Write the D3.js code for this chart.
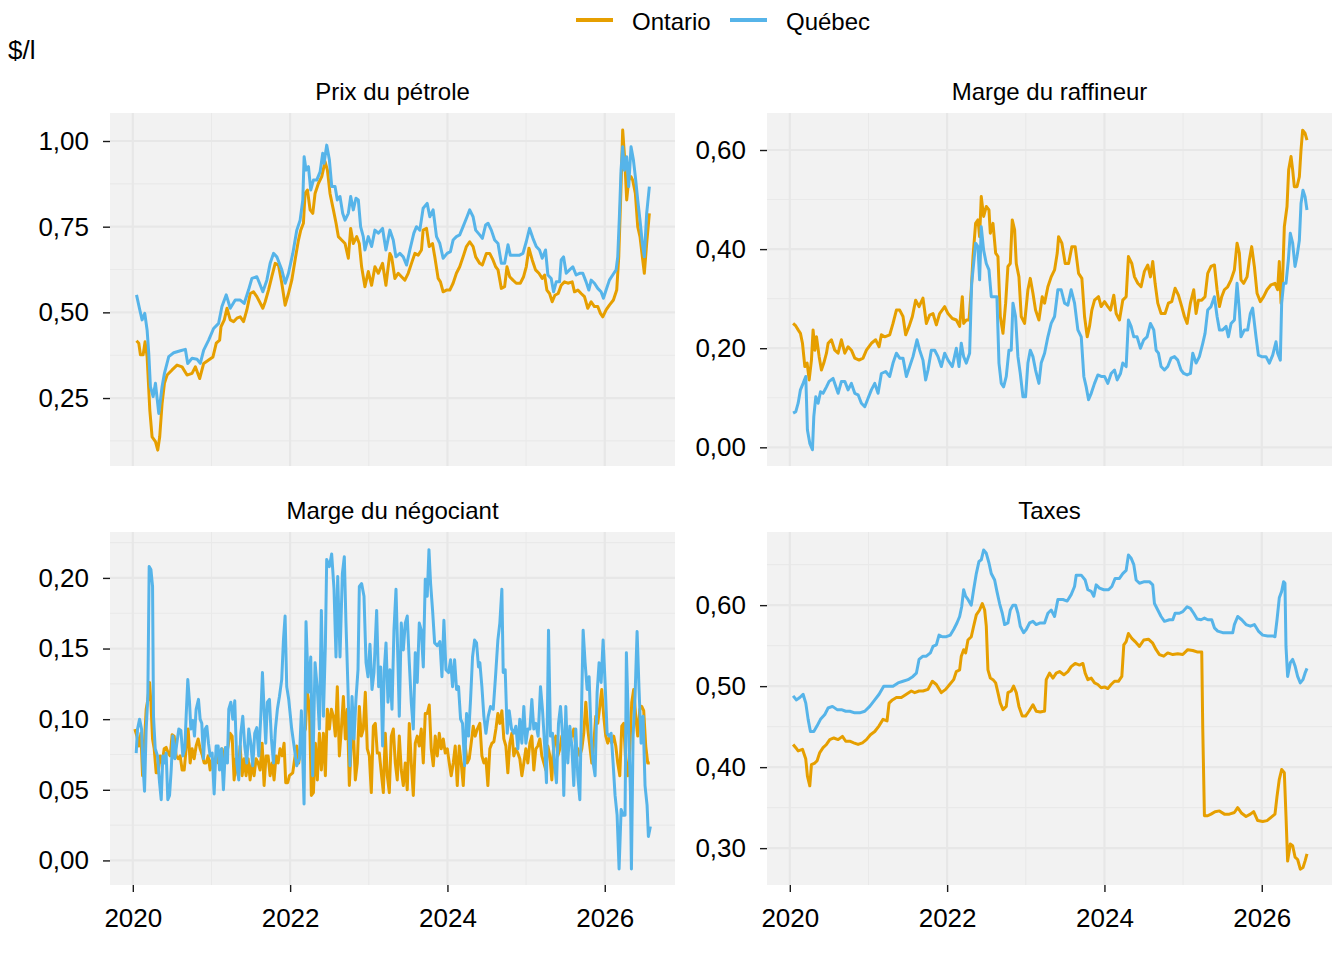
<!DOCTYPE html>
<html>
<head>
<meta charset="utf-8">
<script src="https://cdn.jsdelivr.net/npm/d3@7"></script>
<style>
    body { margin: 0; background: #ffffff; }
    svg { display: block; font-family: "Liberation Sans", Arial, sans-serif; }
</style>
</head>
<body>
<div id="chart"></div>
<script>
// Series names and panel titles
const seriesNames = ["Ontario", "Québec"];
const seriesColors = ["#E69F00", "#56B4E9"];
const panelTitles = ["Prix du pétrole", "Marge du raffineur", "Marge du négociant", "Taxes"];
const unitLabel = "$/l";

// Tick values
const xTicks = [2020, 2022, 2024, 2026];
const yTicksPetrole = [0.25, 0.50, 0.75, 1.00];
const yTicksRaffineur = [0.00, 0.20, 0.40, 0.60];
const yTicksNegociant = [0.00, 0.05, 0.10, 0.15, 0.20];
const yTicksTaxes = [0.30, 0.40, 0.50, 0.60];

// Data: [decimal year, $/l]
const ontarioPetrole = [[2020.047,0.417],[2020.076,0.410],[2020.097,0.376],[2020.131,0.376],[2020.156,0.414],[2020.182,0.370],[2020.216,0.215],[2020.245,0.137],[2020.288,0.123],[2020.317,0.098],[2020.342,0.137],[2020.372,0.234],[2020.402,0.293],[2020.436,0.317],[2020.499,0.332],[2020.562,0.346],[2020.626,0.341],[2020.689,0.317],[2020.753,0.322],[2020.795,0.341],[2020.850,0.307],[2020.901,0.351],[2020.964,0.361],[2021.019,0.370],[2021.061,0.410],[2021.104,0.419],[2021.121,0.458],[2021.163,0.478],[2021.197,0.512],[2021.239,0.478],[2021.281,0.473],[2021.323,0.483],[2021.366,0.487],[2021.408,0.473],[2021.450,0.507],[2021.493,0.555],[2021.535,0.560],[2021.577,0.546],[2021.611,0.531],[2021.653,0.512],[2021.683,0.531],[2021.725,0.565],[2021.767,0.604],[2021.810,0.643],[2021.852,0.638],[2021.894,0.585],[2021.937,0.521],[2021.979,0.555],[2022.021,0.594],[2022.063,0.653],[2022.106,0.711],[2022.135,0.740],[2022.169,0.760],[2022.190,0.847],[2022.220,0.857],[2022.254,0.799],[2022.288,0.789],[2022.317,0.847],[2022.359,0.876],[2022.402,0.896],[2022.444,0.940],[2022.474,0.915],[2022.507,0.847],[2022.550,0.799],[2022.584,0.760],[2022.613,0.721],[2022.655,0.711],[2022.698,0.701],[2022.740,0.658],[2022.770,0.745],[2022.803,0.701],[2022.846,0.721],[2022.879,0.701],[2022.909,0.633],[2022.951,0.575],[2022.994,0.619],[2023.036,0.579],[2023.078,0.633],[2023.121,0.614],[2023.175,0.643],[2023.218,0.579],[2023.268,0.672],[2023.290,0.662],[2023.332,0.599],[2023.374,0.614],[2023.416,0.604],[2023.459,0.594],[2023.501,0.614],[2023.543,0.643],[2023.586,0.672],[2023.628,0.667],[2023.670,0.682],[2023.691,0.740],[2023.734,0.745],[2023.768,0.692],[2023.810,0.701],[2023.839,0.662],[2023.882,0.599],[2023.911,0.589],[2023.945,0.560],[2023.987,0.565],[2024.030,0.565],[2024.072,0.585],[2024.114,0.614],[2024.156,0.633],[2024.199,0.662],[2024.241,0.692],[2024.283,0.706],[2024.326,0.692],[2024.359,0.662],[2024.410,0.643],[2024.444,0.638],[2024.495,0.672],[2024.537,0.672],[2024.579,0.653],[2024.613,0.633],[2024.643,0.624],[2024.685,0.570],[2024.727,0.575],[2024.757,0.633],[2024.791,0.604],[2024.833,0.594],[2024.875,0.585],[2024.926,0.585],[2024.968,0.604],[2025.002,0.633],[2025.036,0.687],[2025.078,0.653],[2025.120,0.624],[2025.163,0.614],[2025.205,0.599],[2025.235,0.609],[2025.264,0.565],[2025.298,0.555],[2025.332,0.531],[2025.366,0.550],[2025.408,0.555],[2025.446,0.579],[2025.488,0.589],[2025.531,0.585],[2025.586,0.589],[2025.615,0.560],[2025.658,0.565],[2025.700,0.555],[2025.742,0.546],[2025.784,0.512],[2025.827,0.531],[2025.869,0.517],[2025.911,0.517],[2025.945,0.497],[2025.975,0.487],[2026.017,0.507],[2026.059,0.521],[2026.110,0.536],[2026.152,0.565],[2026.178,0.662],[2026.207,0.867],[2026.228,1.032],[2026.254,0.945],[2026.279,0.828],[2026.304,0.886],[2026.334,0.896],[2026.355,0.886],[2026.389,0.847],[2026.419,0.750],[2026.448,0.721],[2026.478,0.662],[2026.503,0.614],[2026.533,0.701],[2026.567,0.789]];

const quebecPetrole = [[2020.047,0.551],[2020.089,0.507],[2020.118,0.478],[2020.152,0.497],[2020.182,0.448],[2020.203,0.380],[2020.224,0.283],[2020.258,0.254],[2020.288,0.293],[2020.330,0.205],[2020.372,0.283],[2020.402,0.322],[2020.457,0.371],[2020.520,0.382],[2020.605,0.388],[2020.668,0.392],[2020.698,0.351],[2020.753,0.366],[2020.816,0.363],[2020.858,0.351],[2020.901,0.390],[2020.964,0.419],[2021.027,0.453],[2021.091,0.468],[2021.133,0.517],[2021.188,0.551],[2021.239,0.512],[2021.302,0.536],[2021.366,0.536],[2021.416,0.526],[2021.471,0.565],[2021.514,0.599],[2021.577,0.604],[2021.611,0.585],[2021.653,0.560],[2021.704,0.594],[2021.746,0.643],[2021.789,0.672],[2021.831,0.662],[2021.894,0.624],[2021.937,0.585],[2021.979,0.614],[2022.034,0.672],[2022.085,0.740],[2022.127,0.769],[2022.161,0.828],[2022.178,0.954],[2022.203,0.915],[2022.233,0.925],[2022.262,0.857],[2022.296,0.886],[2022.338,0.886],[2022.381,0.910],[2022.414,0.964],[2022.431,0.935],[2022.465,0.988],[2022.499,0.945],[2022.529,0.867],[2022.571,0.867],[2022.600,0.828],[2022.634,0.838],[2022.668,0.789],[2022.698,0.769],[2022.740,0.789],[2022.770,0.838],[2022.803,0.799],[2022.837,0.833],[2022.867,0.828],[2022.896,0.750],[2022.930,0.721],[2022.951,0.682],[2022.994,0.721],[2023.036,0.692],[2023.078,0.740],[2023.121,0.731],[2023.175,0.745],[2023.218,0.682],[2023.268,0.740],[2023.311,0.711],[2023.345,0.662],[2023.395,0.672],[2023.438,0.662],[2023.480,0.638],[2023.522,0.682],[2023.573,0.731],[2023.607,0.750],[2023.649,0.740],[2023.691,0.804],[2023.742,0.818],[2023.776,0.779],[2023.818,0.799],[2023.861,0.721],[2023.903,0.701],[2023.945,0.658],[2023.996,0.672],[2024.038,0.677],[2024.072,0.711],[2024.114,0.721],[2024.156,0.726],[2024.199,0.750],[2024.249,0.779],[2024.283,0.799],[2024.326,0.779],[2024.359,0.740],[2024.410,0.726],[2024.444,0.716],[2024.486,0.755],[2024.516,0.760],[2024.558,0.740],[2024.600,0.711],[2024.643,0.701],[2024.685,0.643],[2024.727,0.643],[2024.770,0.697],[2024.799,0.667],[2024.854,0.667],[2024.918,0.667],[2024.960,0.672],[2025.002,0.706],[2025.044,0.745],[2025.087,0.716],[2025.129,0.692],[2025.171,0.682],[2025.205,0.658],[2025.247,0.682],[2025.277,0.609],[2025.319,0.599],[2025.349,0.560],[2025.383,0.589],[2025.425,0.589],[2025.446,0.653],[2025.476,0.662],[2025.510,0.614],[2025.552,0.624],[2025.594,0.633],[2025.636,0.609],[2025.679,0.614],[2025.721,0.614],[2025.763,0.589],[2025.797,0.565],[2025.827,0.594],[2025.869,0.585],[2025.911,0.570],[2025.953,0.560],[2025.983,0.541],[2026.017,0.565],[2026.059,0.594],[2026.101,0.609],[2026.144,0.624],[2026.165,0.662],[2026.186,0.779],[2026.207,0.915],[2026.228,0.983],[2026.249,0.915],[2026.279,0.954],[2026.304,0.867],[2026.334,0.983],[2026.364,0.945],[2026.389,0.896],[2026.419,0.828],[2026.448,0.769],[2026.478,0.701],[2026.503,0.662],[2026.533,0.789],[2026.567,0.867]];

const ontarioRaffineur = [[2020.042,0.250],[2020.076,0.245],[2020.106,0.237],[2020.135,0.230],[2020.161,0.210],[2020.191,0.163],[2020.220,0.170],[2020.246,0.136],[2020.275,0.176],[2020.296,0.237],[2020.318,0.196],[2020.339,0.223],[2020.373,0.183],[2020.402,0.156],[2020.432,0.170],[2020.466,0.190],[2020.487,0.210],[2020.529,0.217],[2020.572,0.196],[2020.614,0.190],[2020.656,0.217],[2020.699,0.190],[2020.741,0.203],[2020.783,0.196],[2020.826,0.180],[2020.881,0.176],[2020.931,0.180],[2020.974,0.196],[2021.037,0.210],[2021.092,0.217],[2021.135,0.203],[2021.164,0.227],[2021.207,0.223],[2021.270,0.227],[2021.312,0.250],[2021.355,0.277],[2021.397,0.277],[2021.439,0.264],[2021.473,0.227],[2021.516,0.244],[2021.558,0.264],[2021.600,0.297],[2021.643,0.284],[2021.693,0.301],[2021.736,0.250],[2021.778,0.267],[2021.820,0.270],[2021.863,0.247],[2021.905,0.270],[2021.969,0.284],[2022.011,0.270],[2022.066,0.260],[2022.117,0.257],[2022.159,0.244],[2022.193,0.304],[2022.210,0.250],[2022.244,0.257],[2022.278,0.257],[2022.307,0.318],[2022.329,0.385],[2022.362,0.452],[2022.392,0.459],[2022.413,0.425],[2022.434,0.506],[2022.464,0.466],[2022.498,0.486],[2022.532,0.479],[2022.549,0.432],[2022.583,0.452],[2022.617,0.392],[2022.646,0.385],[2022.676,0.264],[2022.710,0.230],[2022.744,0.291],[2022.773,0.365],[2022.803,0.371],[2022.828,0.459],[2022.858,0.439],[2022.879,0.371],[2022.913,0.344],[2022.942,0.264],[2022.985,0.250],[2023.027,0.318],[2023.057,0.341],[2023.091,0.311],[2023.124,0.277],[2023.167,0.257],[2023.209,0.304],[2023.239,0.291],[2023.281,0.324],[2023.323,0.344],[2023.366,0.358],[2023.400,0.392],[2023.417,0.425],[2023.459,0.412],[2023.501,0.371],[2023.544,0.371],[2023.586,0.405],[2023.628,0.405],[2023.671,0.351],[2023.713,0.341],[2023.747,0.264],[2023.781,0.223],[2023.810,0.244],[2023.840,0.277],[2023.874,0.297],[2023.925,0.304],[2023.958,0.284],[2024.001,0.294],[2024.043,0.284],[2024.077,0.277],[2024.119,0.307],[2024.149,0.270],[2024.191,0.257],[2024.233,0.297],[2024.276,0.304],[2024.305,0.385],[2024.348,0.371],[2024.382,0.344],[2024.424,0.331],[2024.466,0.324],[2024.508,0.355],[2024.551,0.368],[2024.585,0.344],[2024.614,0.375],[2024.644,0.331],[2024.678,0.291],[2024.720,0.270],[2024.771,0.270],[2024.813,0.291],[2024.856,0.294],[2024.898,0.321],[2024.941,0.307],[2024.983,0.284],[2025.017,0.264],[2025.051,0.250],[2025.093,0.291],[2025.135,0.318],[2025.165,0.270],[2025.195,0.297],[2025.237,0.297],[2025.279,0.304],[2025.313,0.351],[2025.355,0.365],[2025.398,0.368],[2025.432,0.318],[2025.462,0.284],[2025.491,0.304],[2025.525,0.318],[2025.567,0.324],[2025.610,0.338],[2025.652,0.358],[2025.686,0.412],[2025.715,0.392],[2025.736,0.338],[2025.770,0.331],[2025.813,0.344],[2025.842,0.378],[2025.872,0.405],[2025.906,0.365],[2025.940,0.311],[2025.982,0.294],[2026.024,0.304],[2026.067,0.318],[2026.118,0.328],[2026.168,0.331],[2026.202,0.318],[2026.223,0.375],[2026.245,0.291],[2026.266,0.344],[2026.287,0.445],[2026.321,0.486],[2026.342,0.560],[2026.372,0.587],[2026.393,0.560],[2026.414,0.526],[2026.448,0.526],[2026.478,0.546],[2026.499,0.600],[2026.520,0.640],[2026.550,0.634],[2026.575,0.620]];

const quebecRaffineur = [[2020.042,0.069],[2020.076,0.072],[2020.106,0.089],[2020.135,0.116],[2020.169,0.129],[2020.203,0.143],[2020.224,0.035],[2020.254,0.008],[2020.288,-0.005],[2020.305,0.062],[2020.330,0.102],[2020.360,0.089],[2020.390,0.112],[2020.423,0.109],[2020.466,0.122],[2020.500,0.133],[2020.550,0.139],[2020.614,0.109],[2020.656,0.133],[2020.699,0.133],[2020.741,0.116],[2020.783,0.129],[2020.826,0.109],[2020.868,0.106],[2020.910,0.089],[2020.953,0.082],[2020.995,0.099],[2021.037,0.116],[2021.080,0.129],[2021.122,0.109],[2021.164,0.149],[2021.219,0.153],[2021.270,0.143],[2021.312,0.170],[2021.355,0.190],[2021.397,0.180],[2021.439,0.180],[2021.482,0.143],[2021.524,0.163],[2021.566,0.183],[2021.617,0.217],[2021.651,0.196],[2021.693,0.176],[2021.727,0.136],[2021.757,0.156],[2021.799,0.196],[2021.842,0.196],[2021.884,0.183],[2021.926,0.163],[2021.969,0.190],[2022.011,0.176],[2022.066,0.163],[2022.117,0.200],[2022.151,0.163],[2022.180,0.210],[2022.210,0.183],[2022.244,0.170],[2022.286,0.190],[2022.312,0.331],[2022.337,0.371],[2022.362,0.412],[2022.392,0.405],[2022.413,0.338],[2022.434,0.445],[2022.464,0.398],[2022.498,0.371],[2022.532,0.358],[2022.561,0.304],[2022.604,0.304],[2022.633,0.304],[2022.659,0.170],[2022.688,0.129],[2022.718,0.122],[2022.752,0.143],[2022.786,0.196],[2022.815,0.196],[2022.837,0.291],[2022.870,0.264],[2022.900,0.183],[2022.930,0.149],[2022.964,0.102],[2022.997,0.102],[2023.027,0.170],[2023.057,0.196],[2023.091,0.183],[2023.124,0.156],[2023.167,0.129],[2023.196,0.170],[2023.239,0.190],[2023.281,0.223],[2023.323,0.250],[2023.366,0.264],[2023.408,0.318],[2023.450,0.318],[2023.493,0.291],[2023.535,0.287],[2023.577,0.318],[2023.620,0.291],[2023.662,0.237],[2023.705,0.223],[2023.738,0.143],[2023.768,0.122],[2023.798,0.096],[2023.832,0.109],[2023.874,0.129],[2023.916,0.146],[2023.958,0.143],[2024.001,0.143],[2024.043,0.129],[2024.085,0.149],[2024.128,0.156],[2024.162,0.136],[2024.204,0.149],[2024.233,0.170],[2024.276,0.163],[2024.305,0.257],[2024.339,0.244],[2024.373,0.223],[2024.415,0.223],[2024.458,0.200],[2024.500,0.217],[2024.542,0.223],[2024.585,0.250],[2024.627,0.237],[2024.657,0.196],[2024.687,0.190],[2024.720,0.163],[2024.763,0.156],[2024.805,0.163],[2024.847,0.180],[2024.890,0.183],[2024.932,0.176],[2024.974,0.156],[2025.008,0.149],[2025.051,0.146],[2025.093,0.149],[2025.123,0.190],[2025.165,0.170],[2025.207,0.183],[2025.250,0.210],[2025.279,0.230],[2025.313,0.277],[2025.355,0.284],[2025.398,0.304],[2025.432,0.264],[2025.462,0.237],[2025.504,0.237],[2025.546,0.244],[2025.576,0.223],[2025.610,0.250],[2025.652,0.257],[2025.686,0.331],[2025.715,0.277],[2025.736,0.223],[2025.779,0.237],[2025.821,0.237],[2025.855,0.270],[2025.884,0.281],[2025.927,0.223],[2025.957,0.186],[2025.999,0.183],[2026.054,0.183],[2026.096,0.170],[2026.139,0.186],[2026.181,0.213],[2026.202,0.190],[2026.236,0.176],[2026.253,0.291],[2026.278,0.331],[2026.308,0.331],[2026.338,0.378],[2026.363,0.432],[2026.393,0.412],[2026.423,0.365],[2026.448,0.385],[2026.478,0.418],[2026.499,0.492],[2026.524,0.519],[2026.550,0.506],[2026.575,0.479]];

const ontarioNegociant = [[2020.026,0.093],[2020.052,0.088],[2020.077,0.081],[2020.103,0.090],[2020.124,0.060],[2020.145,0.081],[2020.170,0.107],[2020.191,0.114],[2020.213,0.126],[2020.230,0.112],[2020.251,0.086],[2020.272,0.079],[2020.297,0.062],[2020.323,0.062],[2020.348,0.074],[2020.373,0.069],[2020.399,0.079],[2020.424,0.080],[2020.450,0.076],[2020.475,0.074],[2020.500,0.089],[2020.526,0.088],[2020.551,0.074],[2020.577,0.072],[2020.602,0.074],[2020.627,0.064],[2020.653,0.064],[2020.678,0.079],[2020.704,0.093],[2020.729,0.069],[2020.754,0.079],[2020.780,0.072],[2020.805,0.081],[2020.831,0.086],[2020.856,0.079],[2020.881,0.075],[2020.907,0.069],[2020.932,0.069],[2020.958,0.074],[2020.983,0.064],[2021.009,0.072],[2021.034,0.067],[2021.059,0.074],[2021.085,0.069],[2021.110,0.074],[2021.136,0.079],[2021.161,0.069],[2021.186,0.074],[2021.212,0.081],[2021.237,0.090],[2021.263,0.088],[2021.288,0.057],[2021.313,0.072],[2021.339,0.060],[2021.364,0.081],[2021.390,0.060],[2021.415,0.072],[2021.440,0.060],[2021.466,0.072],[2021.491,0.057],[2021.517,0.069],[2021.542,0.060],[2021.567,0.072],[2021.593,0.069],[2021.618,0.064],[2021.644,0.083],[2021.669,0.053],[2021.694,0.074],[2021.720,0.074],[2021.745,0.060],[2021.771,0.069],[2021.796,0.057],[2021.821,0.074],[2021.847,0.069],[2021.872,0.079],[2021.898,0.074],[2021.923,0.083],[2021.944,0.055],[2021.969,0.055],[2021.991,0.060],[2022.033,0.062],[2022.058,0.072],[2022.084,0.081],[2022.109,0.069],[2022.135,0.081],[2022.160,0.088],[2022.194,0.093],[2022.219,0.119],[2022.245,0.109],[2022.270,0.046],[2022.296,0.048],[2022.321,0.083],[2022.346,0.057],[2022.372,0.090],[2022.397,0.064],[2022.423,0.090],[2022.448,0.060],[2022.473,0.107],[2022.499,0.093],[2022.524,0.107],[2022.550,0.102],[2022.575,0.088],[2022.600,0.123],[2022.626,0.074],[2022.651,0.093],[2022.677,0.116],[2022.702,0.086],[2022.727,0.107],[2022.753,0.053],[2022.778,0.083],[2022.804,0.093],[2022.829,0.057],[2022.854,0.069],[2022.880,0.109],[2022.905,0.088],[2022.931,0.093],[2022.956,0.119],[2022.981,0.079],[2023.007,0.074],[2023.032,0.048],[2023.058,0.095],[2023.083,0.097],[2023.108,0.076],[2023.134,0.076],[2023.159,0.062],[2023.185,0.048],[2023.210,0.090],[2023.235,0.060],[2023.261,0.048],[2023.286,0.088],[2023.312,0.093],[2023.337,0.069],[2023.362,0.057],[2023.388,0.088],[2023.413,0.064],[2023.439,0.053],[2023.464,0.069],[2023.489,0.050],[2023.515,0.097],[2023.540,0.069],[2023.566,0.046],[2023.591,0.083],[2023.616,0.088],[2023.642,0.081],[2023.667,0.093],[2023.693,0.069],[2023.718,0.104],[2023.743,0.104],[2023.769,0.110],[2023.794,0.079],[2023.820,0.067],[2023.845,0.088],[2023.871,0.074],[2023.896,0.090],[2023.921,0.079],[2023.947,0.086],[2023.972,0.076],[2023.998,0.079],[2024.023,0.069],[2024.048,0.060],[2024.074,0.069],[2024.099,0.081],[2024.125,0.053],[2024.150,0.081],[2024.175,0.069],[2024.201,0.053],[2024.226,0.081],[2024.252,0.069],[2024.277,0.072],[2024.302,0.083],[2024.328,0.095],[2024.353,0.088],[2024.379,0.093],[2024.412,0.097],[2024.438,0.074],[2024.463,0.069],[2024.489,0.072],[2024.514,0.053],[2024.539,0.079],[2024.565,0.083],[2024.590,0.084],[2024.616,0.093],[2024.641,0.104],[2024.666,0.097],[2024.692,0.106],[2024.717,0.086],[2024.743,0.081],[2024.768,0.062],[2024.793,0.083],[2024.819,0.090],[2024.844,0.074],[2024.870,0.079],[2024.895,0.076],[2024.920,0.072],[2024.946,0.060],[2024.971,0.069],[2024.997,0.079],[2025.022,0.069],[2025.048,0.083],[2025.073,0.088],[2025.098,0.064],[2025.124,0.079],[2025.149,0.081],[2025.175,0.086],[2025.200,0.074],[2025.225,0.069],[2025.251,0.064],[2025.276,0.081],[2025.302,0.074],[2025.327,0.057],[2025.352,0.083],[2025.378,0.088],[2025.403,0.074],[2025.429,0.079],[2025.454,0.088],[2025.479,0.079],[2025.505,0.088],[2025.530,0.081],[2025.556,0.086],[2025.581,0.088],[2025.606,0.093],[2025.632,0.081],[2025.657,0.079],[2025.683,0.074],[2025.708,0.079],[2025.733,0.090],[2025.759,0.112],[2025.784,0.093],[2025.810,0.081],[2025.835,0.069],[2025.860,0.083],[2025.886,0.102],[2025.911,0.097],[2025.937,0.109],[2025.962,0.121],[2025.987,0.102],[2026.013,0.088],[2026.038,0.083],[2026.064,0.088],[2026.089,0.083],[2026.114,0.088],[2026.140,0.081],[2026.165,0.069],[2026.191,0.060],[2026.216,0.095],[2026.241,0.097],[2026.267,0.069],[2026.292,0.060],[2026.318,0.079],[2026.343,0.112],[2026.368,0.121],[2026.394,0.102],[2026.419,0.088],[2026.445,0.107],[2026.470,0.109],[2026.495,0.106],[2026.521,0.081],[2026.546,0.069],[2026.572,0.069]];

const quebecNegociant = [[2020.043,0.076],[2020.060,0.093],[2020.086,0.100],[2020.111,0.093],[2020.128,0.069],[2020.149,0.049],[2020.170,0.093],[2020.191,0.116],[2020.208,0.208],[2020.230,0.206],[2020.251,0.194],[2020.263,0.102],[2020.285,0.079],[2020.314,0.074],[2020.340,0.055],[2020.361,0.043],[2020.382,0.074],[2020.403,0.069],[2020.424,0.076],[2020.445,0.043],[2020.467,0.046],[2020.488,0.064],[2020.509,0.088],[2020.534,0.072],[2020.560,0.083],[2020.585,0.093],[2020.611,0.092],[2020.636,0.074],[2020.661,0.079],[2020.678,0.102],[2020.699,0.128],[2020.721,0.112],[2020.738,0.093],[2020.763,0.099],[2020.784,0.088],[2020.805,0.107],[2020.835,0.114],[2020.856,0.100],[2020.877,0.097],[2020.898,0.072],[2020.920,0.093],[2020.941,0.095],[2020.962,0.083],[2020.983,0.074],[2021.009,0.076],[2021.034,0.047],[2021.059,0.081],[2021.085,0.081],[2021.102,0.064],[2021.127,0.079],[2021.152,0.050],[2021.178,0.080],[2021.203,0.069],[2021.220,0.107],[2021.246,0.112],[2021.271,0.100],[2021.296,0.113],[2021.322,0.069],[2021.347,0.057],[2021.373,0.090],[2021.398,0.102],[2021.423,0.081],[2021.449,0.069],[2021.474,0.093],[2021.500,0.083],[2021.525,0.067],[2021.550,0.090],[2021.576,0.094],[2021.601,0.074],[2021.627,0.102],[2021.648,0.133],[2021.669,0.107],[2021.690,0.083],[2021.711,0.112],[2021.737,0.114],[2021.762,0.086],[2021.788,0.069],[2021.813,0.093],[2021.838,0.107],[2021.864,0.116],[2021.893,0.128],[2021.915,0.156],[2021.936,0.173],[2021.957,0.123],[2021.982,0.114],[2022.020,0.093],[2022.050,0.081],[2022.084,0.067],[2022.118,0.072],[2022.143,0.106],[2022.177,0.040],[2022.202,0.169],[2022.232,0.119],[2022.262,0.144],[2022.287,0.060],[2022.317,0.140],[2022.346,0.121],[2022.372,0.093],[2022.397,0.177],[2022.423,0.102],[2022.448,0.152],[2022.465,0.213],[2022.499,0.208],[2022.528,0.217],[2022.558,0.192],[2022.583,0.144],[2022.605,0.201],[2022.634,0.144],[2022.664,0.203],[2022.689,0.215],[2022.710,0.168],[2022.736,0.121],[2022.761,0.067],[2022.787,0.116],[2022.812,0.086],[2022.837,0.114],[2022.863,0.135],[2022.880,0.194],[2022.909,0.196],[2022.939,0.187],[2022.965,0.140],[2022.990,0.130],[2023.015,0.153],[2023.041,0.121],[2023.066,0.133],[2023.100,0.177],[2023.125,0.123],[2023.151,0.137],[2023.176,0.081],[2023.197,0.135],[2023.219,0.154],[2023.244,0.112],[2023.269,0.135],[2023.295,0.107],[2023.320,0.163],[2023.346,0.192],[2023.371,0.140],[2023.388,0.102],[2023.413,0.168],[2023.439,0.149],[2023.464,0.168],[2023.489,0.173],[2023.515,0.140],[2023.540,0.112],[2023.566,0.093],[2023.591,0.147],[2023.616,0.126],[2023.642,0.168],[2023.667,0.163],[2023.693,0.137],[2023.718,0.199],[2023.743,0.187],[2023.765,0.220],[2023.786,0.196],[2023.811,0.177],[2023.837,0.154],[2023.871,0.152],[2023.904,0.155],[2023.930,0.130],[2023.955,0.170],[2023.981,0.135],[2024.014,0.133],[2024.040,0.142],[2024.065,0.123],[2024.091,0.142],[2024.116,0.121],[2024.141,0.123],[2024.167,0.100],[2024.192,0.097],[2024.218,0.067],[2024.243,0.104],[2024.268,0.088],[2024.294,0.114],[2024.319,0.144],[2024.345,0.156],[2024.370,0.154],[2024.395,0.137],[2024.412,0.140],[2024.438,0.123],[2024.463,0.102],[2024.489,0.090],[2024.518,0.102],[2024.548,0.109],[2024.582,0.107],[2024.611,0.130],[2024.641,0.156],[2024.666,0.168],[2024.692,0.192],[2024.709,0.133],[2024.734,0.135],[2024.760,0.090],[2024.785,0.106],[2024.815,0.093],[2024.844,0.090],[2024.870,0.095],[2024.895,0.079],[2024.920,0.100],[2024.946,0.083],[2024.971,0.109],[2024.997,0.083],[2025.022,0.093],[2025.048,0.093],[2025.073,0.114],[2025.098,0.093],[2025.124,0.097],[2025.153,0.088],[2025.183,0.123],[2025.208,0.107],[2025.234,0.083],[2025.259,0.055],[2025.285,0.163],[2025.310,0.088],[2025.335,0.090],[2025.361,0.069],[2025.386,0.055],[2025.412,0.097],[2025.437,0.109],[2025.462,0.090],[2025.479,0.046],[2025.505,0.109],[2025.530,0.069],[2025.556,0.095],[2025.581,0.081],[2025.606,0.053],[2025.632,0.093],[2025.657,0.060],[2025.683,0.043],[2025.708,0.116],[2025.725,0.163],[2025.750,0.140],[2025.776,0.121],[2025.801,0.130],[2025.827,0.088],[2025.852,0.069],[2025.877,0.060],[2025.903,0.119],[2025.928,0.140],[2025.954,0.126],[2025.979,0.156],[2026.004,0.126],[2026.030,0.090],[2026.055,0.088],[2026.081,0.090],[2026.106,0.069],[2026.131,0.046],[2026.157,0.032],[2026.182,-0.006],[2026.208,0.036],[2026.233,0.032],[2026.258,0.032],[2026.275,0.147],[2026.301,0.097],[2026.326,0.050],[2026.339,-0.006],[2026.360,0.088],[2026.385,0.116],[2026.411,0.162],[2026.436,0.121],[2026.462,0.083],[2026.487,0.102],[2026.512,0.053],[2026.538,0.039],[2026.555,0.017],[2026.580,0.024]];

const ontarioTaxes = [[2020.042,0.428],[2020.076,0.424],[2020.106,0.420],[2020.161,0.422],[2020.203,0.410],[2020.224,0.389],[2020.254,0.377],[2020.275,0.403],[2020.318,0.405],[2020.347,0.408],[2020.381,0.418],[2020.423,0.424],[2020.466,0.428],[2020.508,0.434],[2020.559,0.436],[2020.614,0.434],[2020.669,0.438],[2020.711,0.432],[2020.762,0.432],[2020.813,0.430],[2020.868,0.428],[2020.923,0.430],[2020.974,0.434],[2021.025,0.440],[2021.080,0.444],[2021.135,0.451],[2021.185,0.459],[2021.236,0.457],[2021.262,0.479],[2021.304,0.483],[2021.355,0.486],[2021.418,0.486],[2021.482,0.490],[2021.545,0.494],[2021.588,0.492],[2021.643,0.494],[2021.693,0.494],[2021.757,0.496],[2021.812,0.506],[2021.863,0.502],[2021.926,0.492],[2021.981,0.496],[2022.032,0.502],[2022.083,0.508],[2022.117,0.518],[2022.159,0.520],[2022.180,0.537],[2022.210,0.545],[2022.235,0.541],[2022.265,0.557],[2022.307,0.561],[2022.337,0.574],[2022.371,0.588],[2022.413,0.594],[2022.447,0.602],[2022.477,0.594],[2022.498,0.574],[2022.519,0.520],[2022.549,0.510],[2022.583,0.508],[2022.617,0.504],[2022.646,0.492],[2022.676,0.479],[2022.710,0.471],[2022.752,0.475],[2022.773,0.492],[2022.815,0.494],[2022.845,0.500],[2022.879,0.492],[2022.913,0.475],[2022.955,0.463],[2022.997,0.463],[2023.040,0.469],[2023.091,0.477],[2023.133,0.469],[2023.184,0.468],[2023.226,0.469],[2023.239,0.469],[2023.260,0.508],[2023.302,0.516],[2023.345,0.510],[2023.387,0.516],[2023.429,0.518],[2023.484,0.514],[2023.535,0.518],[2023.577,0.524],[2023.628,0.528],[2023.683,0.526],[2023.726,0.528],[2023.755,0.516],[2023.789,0.508],[2023.832,0.510],[2023.874,0.504],[2023.916,0.502],[2023.958,0.498],[2024.001,0.499],[2024.043,0.497],[2024.085,0.502],[2024.128,0.506],[2024.178,0.506],[2024.221,0.512],[2024.246,0.551],[2024.276,0.555],[2024.305,0.565],[2024.348,0.559],[2024.390,0.555],[2024.445,0.549],[2024.500,0.557],[2024.559,0.558],[2024.614,0.553],[2024.657,0.545],[2024.699,0.539],[2024.754,0.537],[2024.805,0.541],[2024.869,0.539],[2024.932,0.540],[2024.996,0.539],[2025.059,0.545],[2025.123,0.544],[2025.186,0.542],[2025.237,0.542],[2025.250,0.447],[2025.271,0.340],[2025.313,0.340],[2025.355,0.342],[2025.406,0.345],[2025.462,0.346],[2025.525,0.342],[2025.588,0.342],[2025.652,0.344],[2025.694,0.350],[2025.745,0.343],[2025.800,0.339],[2025.855,0.342],[2025.897,0.345],[2025.948,0.334],[2026.012,0.333],[2026.067,0.334],[2026.118,0.338],[2026.168,0.342],[2026.194,0.364],[2026.223,0.385],[2026.253,0.397],[2026.287,0.393],[2026.308,0.340],[2026.329,0.284],[2026.363,0.305],[2026.393,0.303],[2026.423,0.289],[2026.456,0.286],[2026.490,0.274],[2026.524,0.276],[2026.550,0.284],[2026.575,0.293]];

const quebecTaxes = [[2020.042,0.488],[2020.085,0.483],[2020.127,0.486],[2020.169,0.490],[2020.203,0.479],[2020.233,0.459],[2020.262,0.444],[2020.305,0.444],[2020.347,0.451],[2020.390,0.459],[2020.445,0.465],[2020.487,0.473],[2020.542,0.475],[2020.601,0.471],[2020.656,0.471],[2020.711,0.469],[2020.762,0.469],[2020.826,0.467],[2020.889,0.467],[2020.953,0.469],[2021.016,0.475],[2021.080,0.483],[2021.135,0.490],[2021.194,0.500],[2021.249,0.500],[2021.312,0.500],[2021.376,0.504],[2021.439,0.506],[2021.503,0.508],[2021.566,0.512],[2021.609,0.516],[2021.643,0.533],[2021.693,0.537],[2021.736,0.537],[2021.787,0.541],[2021.820,0.549],[2021.863,0.551],[2021.897,0.563],[2021.939,0.561],[2021.990,0.561],[2022.041,0.563],[2022.083,0.570],[2022.125,0.578],[2022.159,0.586],[2022.185,0.598],[2022.210,0.619],[2022.235,0.611],[2022.265,0.607],[2022.307,0.600],[2022.337,0.619],[2022.371,0.639],[2022.405,0.654],[2022.434,0.656],[2022.464,0.668],[2022.498,0.664],[2022.532,0.652],[2022.561,0.639],[2022.604,0.631],[2022.633,0.617],[2022.667,0.602],[2022.701,0.590],[2022.731,0.576],[2022.773,0.578],[2022.803,0.594],[2022.837,0.600],[2022.870,0.600],[2022.900,0.590],[2022.930,0.574],[2022.972,0.566],[2023.006,0.570],[2023.048,0.578],[2023.091,0.580],[2023.133,0.576],[2023.184,0.578],[2023.239,0.578],[2023.281,0.590],[2023.323,0.594],[2023.366,0.586],[2023.408,0.607],[2023.472,0.607],[2023.527,0.605],[2023.577,0.613],[2023.620,0.623],[2023.641,0.637],[2023.705,0.637],[2023.755,0.631],[2023.789,0.619],[2023.832,0.617],[2023.865,0.611],[2023.895,0.625],[2023.937,0.621],[2023.992,0.619],[2024.052,0.619],[2024.094,0.623],[2024.136,0.633],[2024.191,0.633],[2024.233,0.639],[2024.276,0.643],[2024.305,0.662],[2024.339,0.658],[2024.373,0.650],[2024.403,0.631],[2024.445,0.627],[2024.508,0.629],[2024.572,0.629],[2024.614,0.625],[2024.636,0.602],[2024.678,0.594],[2024.720,0.586],[2024.763,0.580],[2024.826,0.582],[2024.869,0.582],[2024.898,0.590],[2024.953,0.590],[2024.996,0.592],[2025.051,0.598],[2025.093,0.596],[2025.135,0.590],[2025.178,0.583],[2025.229,0.582],[2025.271,0.584],[2025.313,0.582],[2025.364,0.582],[2025.398,0.572],[2025.440,0.568],[2025.504,0.566],[2025.567,0.566],[2025.631,0.566],[2025.652,0.576],[2025.694,0.586],[2025.745,0.582],[2025.800,0.576],[2025.855,0.574],[2025.906,0.576],[2025.957,0.568],[2026.012,0.563],[2026.075,0.562],[2026.139,0.562],[2026.168,0.561],[2026.194,0.582],[2026.223,0.609],[2026.253,0.617],[2026.278,0.629],[2026.295,0.627],[2026.308,0.549],[2026.329,0.512],[2026.363,0.529],[2026.393,0.533],[2026.423,0.525],[2026.456,0.512],[2026.490,0.504],[2026.524,0.508],[2026.550,0.516],[2026.575,0.522]];

// Layout
const width = 1344, height = 960;
const panelW = 565, panelH = 353;
const xDomain = [2019.71, 2026.893];

const panels = [
    {title: panelTitles[0], series: [ontarioPetrole, quebecPetrole], yTicks: yTicksPetrole, yDomain: [0.0517, 1.0817], left: 110, top: 113, bottomRow: false},
    {title: panelTitles[1], series: [ontarioRaffineur, quebecRaffineur], yTicks: yTicksRaffineur, yDomain: [-0.0377, 0.6747], left: 767, top: 113, bottomRow: false},
    {title: panelTitles[2], series: [ontarioNegociant, quebecNegociant], yTicks: yTicksNegociant, yDomain: [-0.0174, 0.2325], left: 110, top: 532, bottomRow: true},
    {title: panelTitles[3], series: [ontarioTaxes, quebecTaxes], yTicks: yTicksTaxes, yDomain: [0.2545, 0.6903], left: 767, top: 532, bottomRow: true}
];

const frLocale = d3.formatLocale({decimal: ",", thousands: " ", grouping: [3], currency: ["", " $"]});
const yFormat = frLocale.format(".2f");

let svg = d3.select("#chart").append("svg")
    .attr("width", width)
    .attr("height", height);

// Unit label
svg.append("text")
    .attr("x", 8)
    .attr("y", 59)
    .attr("font-size", 26)
    .attr("fill", "#000")
    .text(unitLabel);

// Legend
let legend = svg.append("g").attr("class", "legend");
const legendX = [576, 730];
seriesNames.forEach((name, i) => {
    legend.append("line")
        .attr("x1", legendX[i]).attr("x2", legendX[i] + 37)
        .attr("y1", 20).attr("y2", 20)
        .attr("stroke", seriesColors[i])
        .attr("stroke-width", 3.8);
    legend.append("text")
        .attr("x", legendX[i] + 56)
        .attr("y", 30)
        .attr("font-size", 24)
        .attr("fill", "#000")
        .text(name);
});

panels.forEach((p, pi) => {
    let g = svg.append("g")
        .attr("transform", `translate(${p.left}, ${p.top})`);

    let x = d3.scaleLinear().domain(xDomain).range([0, panelW]);
    let y = d3.scaleLinear().domain(p.yDomain).range([panelH, 0]);

    // Panel background
    g.append("rect")
        .attr("width", panelW)
        .attr("height", panelH)
        .attr("fill", "#F2F2F2");

    // Minor grid
    let yStep = p.yTicks[1] - p.yTicks[0];
    let yMinor = d3.range(p.yTicks[0] - yStep / 2, p.yDomain[1], yStep)
        .filter(v => v > p.yDomain[0] && v < p.yDomain[1]);
    let xMinor = [2019, 2021, 2023, 2025, 2027].filter(v => v > xDomain[0] && v < xDomain[1]);

    g.selectAll(".y-minor").data(yMinor).enter().append("line")
        .attr("x1", 0).attr("x2", panelW)
        .attr("y1", d => y(d)).attr("y2", d => y(d))
        .attr("stroke", "#E9E9E9").attr("stroke-width", 1.1);
    g.selectAll(".x-minor").data(xMinor).enter().append("line")
        .attr("y1", 0).attr("y2", panelH)
        .attr("x1", d => x(d)).attr("x2", d => x(d))
        .attr("stroke", "#E9E9E9").attr("stroke-width", 1.1);

    // Major grid
    g.selectAll(".y-major").data(p.yTicks).enter().append("line")
        .attr("x1", 0).attr("x2", panelW)
        .attr("y1", d => y(d)).attr("y2", d => y(d))
        .attr("stroke", "#E7E7E7").attr("stroke-width", 2.2);
    g.selectAll(".x-major").data(xTicks).enter().append("line")
        .attr("y1", 0).attr("y2", panelH)
        .attr("x1", d => x(d)).attr("x2", d => x(d))
        .attr("stroke", "#E7E7E7").attr("stroke-width", 2.2);

    // Clip
    svg.append("clipPath").attr("id", "clip" + pi)
        .append("rect").attr("width", panelW).attr("height", panelH);

    let line = d3.line()
        .x(d => x(d[0]))
        .y(d => y(d[1]));

    p.series.forEach((s, i) => {
        g.append("path")
            .datum(s)
            .attr("clip-path", `url(#clip${pi})`)
            .attr("d", line)
            .attr("fill", "none")
            .attr("stroke", seriesColors[i])
            .attr("stroke-width", 3)
            .attr("stroke-linejoin", "round");
    });

    // Strip title
    svg.append("text")
        .attr("x", p.left + panelW / 2)
        .attr("y", p.top - 13)
        .attr("text-anchor", "middle")
        .attr("font-size", 24)
        .attr("fill", "#000")
        .text(p.title);

    // Y axis
    let yAxis = g.append("g")
        .call(d3.axisLeft(y).tickValues(p.yTicks).tickSize(7).tickPadding(14).tickFormat(yFormat));
    yAxis.select(".domain").remove();
    yAxis.selectAll("line").attr("stroke", "#1a1a1a").attr("stroke-width", 1.4);
    yAxis.selectAll("text")
        .attr("font-size", 26)
        .attr("font-family", "Liberation Sans, Arial, sans-serif")
        .attr("fill", "#000");

    // X axis on bottom row only
    if (p.bottomRow) {
        let xAxis = g.append("g")
            .attr("transform", `translate(0, ${panelH})`)
            .call(d3.axisBottom(x).tickValues(xTicks).tickSize(7).tickPadding(17).tickFormat(d3.format("d")));
        xAxis.select(".domain").remove();
        xAxis.selectAll("line").attr("stroke", "#1a1a1a").attr("stroke-width", 1.4);
        xAxis.selectAll("text")
            .attr("font-size", 26)
            .attr("font-family", "Liberation Sans, Arial, sans-serif")
            .attr("fill", "#000");
    }
});
</script>
</body>
</html>
